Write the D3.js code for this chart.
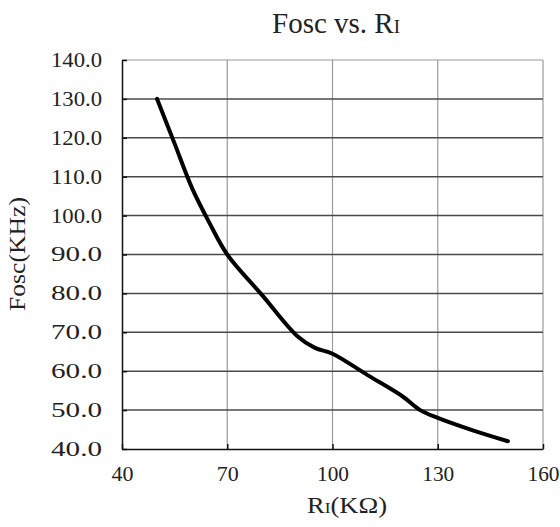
<!DOCTYPE html>
<html>
<head>
<meta charset="utf-8">
<script src="https://cdn.jsdelivr.net/npm/d3@7"></script>
<style>
  body { margin: 0; background: #fff; }
  text { font-family: "Liberation Serif", "DejaVu Serif", serif; fill: #222; }
</style>
</head>
<body>
<svg id="chart"></svg>
<script>
const width = 560;
const height = 527;

// readings
const resistance = [50, 55, 60, 65, 70, 80, 90, 95, 100, 110, 120, 125, 130, 140, 150];
const frequency = [130, 118.5, 107, 98, 90, 79.5, 69, 66, 64.5, 59, 53.5, 50, 48, 44.8, 42];
const xTicks = [40, 70, 100, 130, 160];
const yTicks = [40, 50, 60, 70, 80, 90, 100, 110, 120, 130, 140];

const margin = { top: 60, right: 17, bottom: 78, left: 122 };

const svg = d3.select("#chart").attr("width", width).attr("height", height);

const x = d3.scaleLinear().domain([40, 160]).range([margin.left, width - margin.right]);
const y = d3.scaleLinear().domain([40, 140]).range([height - margin.bottom, margin.top]);

// vertical grid (light)
svg.append("g")
  .selectAll("line")
  .data(xTicks.slice(1))
  .enter()
  .append("line")
  .attr("x1", (d) => x(d)).attr("x2", (d) => x(d))
  .attr("y1", y(140)).attr("y2", y(40))
  .attr("stroke", "#9a9a9a")
  .attr("stroke-width", 1.2);

// horizontal grid (dark)
svg.append("g")
  .selectAll("line")
  .data(yTicks.slice(1, -1))
  .enter()
  .append("line")
  .attr("x1", x(40)).attr("x2", x(160))
  .attr("y1", (d) => y(d)).attr("y2", (d) => y(d))
  .attr("stroke", "#4a4a4a")
  .attr("stroke-width", 1.5);

// top border
svg.append("line")
  .attr("x1", x(40)).attr("x2", x(160))
  .attr("y1", y(140)).attr("y2", y(140))
  .attr("stroke", "#9a9a9a").attr("stroke-width", 1.2);

// axes
const xAxis = svg.append("g")
  .attr("transform", `translate(0,${y(40)})`)
  .call(d3.axisBottom(x).tickValues(xTicks).tickSizeInner(-5).tickSizeOuter(0).tickPadding(18));
const yAxis = svg.append("g")
  .attr("transform", `translate(${x(40)},0)`)
  .call(d3.axisLeft(y).tickValues(yTicks).tickFormat(d3.format(".1f")).tickSizeInner(-5).tickSizeOuter(0).tickPadding(20));

[xAxis, yAxis].forEach((g) => {
  g.select(".domain").attr("stroke", "#111").attr("stroke-width", 1.5);
  g.selectAll(".tick line").attr("stroke", "#111").attr("stroke-width", 1.5);
  g.selectAll("text")
    .attr("font-family", "Liberation Serif, serif")
    .attr("font-size", 20)
    .attr("fill", "#222");
});
yAxis.selectAll("text")
  .attr("textLength", 51)
  .attr("lengthAdjust", "spacingAndGlyphs");
xAxis.selectAll("text")
  .attr("textLength", (d) => (String(d).length === 3 ? 32 : 22))
  .attr("lengthAdjust", "spacingAndGlyphs");

// curve
const line = d3.line()
  .x((d, i) => x(resistance[i]))
  .y((d) => y(d))
  .curve(d3.curveCatmullRom.alpha(0.5));

svg.append("path")
  .datum(frequency)
  .attr("d", line)
  .attr("fill", "none")
  .attr("stroke", "#000")
  .attr("stroke-width", 4)
  .attr("stroke-linecap", "round")
  .attr("stroke-linejoin", "round");

// title
const title = svg.append("text")
  .attr("x", 336).attr("y", 33)
  .attr("text-anchor", "middle")
  .attr("font-size", 29)
  .attr("textLength", 128)
  .attr("lengthAdjust", "spacingAndGlyphs");
title.append("tspan").text("Fosc vs. R");
title.append("tspan").attr("font-size", 19).text("I");

// x label
const xl = svg.append("text")
  .attr("x", 347).attr("y", 513)
  .attr("text-anchor", "middle")
  .attr("font-size", 23)
  .attr("textLength", 80)
  .attr("lengthAdjust", "spacingAndGlyphs");
xl.append("tspan").text("R");
xl.append("tspan").attr("font-size", 15).text("I");
xl.append("tspan").text("(KΩ)");

// y label
svg.append("text")
  .attr("transform", "translate(25,254) rotate(-90)")
  .attr("text-anchor", "middle")
  .attr("font-size", 23)
  .attr("textLength", 114)
  .attr("lengthAdjust", "spacingAndGlyphs")
  .text("Fosc(KHz)");
</script>
</body>
</html>
